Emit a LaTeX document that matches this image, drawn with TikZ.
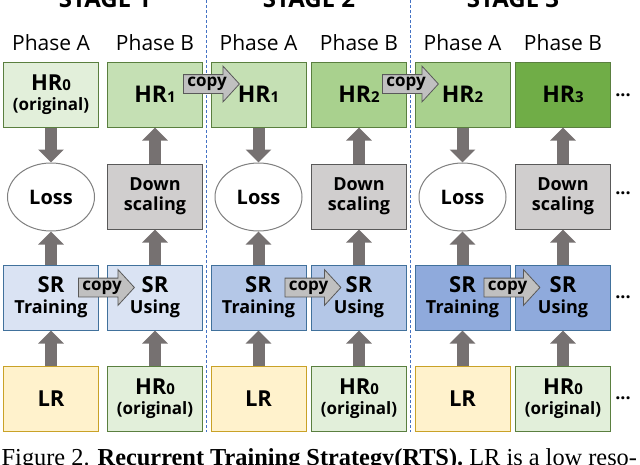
\documentclass[tikz,border=0pt]{standalone}
\usepackage{fontspec}
\setmainfont{Open Sans}
\newfontfamily\capfont{Liberation Serif}
\usetikzlibrary{shapes.geometric,shapes.arrows,arrows.meta,calc}
\definecolor{gA}{HTML}{E2EFDA}
\definecolor{gB}{HTML}{C5E0B4}
\definecolor{gC}{HTML}{A9D18E}
\definecolor{gD}{HTML}{70AD47}
\definecolor{gline}{HTML}{5A7F3F}
\definecolor{bA}{HTML}{DAE3F3}
\definecolor{bB}{HTML}{B4C7E7}
\definecolor{bC}{HTML}{8FAADC}
\definecolor{bline}{HTML}{41719C}
\definecolor{yfill}{HTML}{FFF2CC}
\definecolor{yline}{HTML}{C9A227}
\definecolor{dsfill}{HTML}{D0CECE}
\definecolor{dsline}{HTML}{595959}
\definecolor{arrgray}{HTML}{767171}
\definecolor{copyfill}{HTML}{C0C0C0}
\definecolor{sepblue}{HTML}{4472C4}
\newcommand{\hrlab}[1]{HR\raisebox{-0.5pt}{\fontsize{15}{15}\selectfont #1}}
\newcommand{\origlab}{{\fontsize{22}{20}\selectfont\hrlab{0}}\\{\fontsize{17}{20}\selectfont (original)}}
\newcommand{\srlab}[1]{{\fontsize{22}{21}\selectfont SR}\\{\fontsize{18}{21}\selectfont #1}}
\begin{document}
\begin{tikzpicture}[x=1pt,y=-1pt,
  box/.style={draw, line width=1pt, minimum width=95pt, minimum height=65pt, inner sep=0pt, align=center, font=\bfseries},
  hrbox/.style={box, draw=gline, fill=#1, font=\bfseries\fontsize{23}{25}\selectfont},
  origbox/.style={box, draw=gline, fill=gA, font=\bfseries\fontsize{17}{20}\selectfont},
  srbox/.style={box, draw=bline, fill=#1, font=\bfseries\fontsize{18}{21}\selectfont},
  lrbox/.style={box, draw=yline, fill=yfill, font=\bfseries\fontsize{22}{24}\selectfont},
  dsbox/.style={box, draw=dsline, fill=dsfill, font=\bfseries\fontsize{18}{20}\selectfont},
  lossnode/.style={ellipse, draw=black!50, line width=1pt, fill=white, minimum width=87pt, minimum height=68pt, inner sep=0pt, font=\bfseries\fontsize{20}{22}\selectfont},
  phaselab/.style={font=\fontsize{21}{23}\selectfont},
  stagelab/.style={font=\bfseries\fontsize{24}{26}\selectfont, anchor=base},
  dotslab/.style={font=\bfseries\fontsize{18}{18}\selectfont, anchor=base},
  bigarrow/.style={draw=arrgray, line width=12pt, -{Triangle[length=13pt,width=25pt]}},
  copyarrow/.style={single arrow, draw=dsline, fill=copyfill, line width=0.8pt,
    single arrow head extend=8.5pt, single arrow tip angle=95, minimum height=56pt,
    inner xsep=1pt, inner ysep=2.5pt, text height=9pt, text depth=4pt,
    font=\bfseries\fontsize{17}{17}\selectfont, anchor=tail},
  sepline/.style={draw=sepblue, line width=0.9pt, dash pattern=on 3pt off 2pt}
]
\useasboundingbox (0,0) rectangle (640,464);

% separators
\draw[sepline] (206,0) -- (206,432);
\draw[sepline] (410,0) -- (410,432);

% stage labels
\node[stagelab] (st1) at (105,7.5) {STAGE 1};
\node[stagelab] (st2) at (309,7.5) {STAGE 2};
\node[stagelab] (st3) at (513,7.5) {STAGE 3};

% phase labels
\node[phaselab] (p1a) at (51,43) {Phase A};
\node[phaselab] (p1b) at (155,43) {Phase B};
\node[phaselab] (p2a) at (258.5,43) {Phase A};
\node[phaselab] (p2b) at (359,43) {Phase B};
\node[phaselab] (p3a) at (462.5,43) {Phase A};
\node[phaselab] (p3b) at (563,43) {Phase B};

% row 1
\node[origbox] (h1a) at (51,94.5) {\origlab};
\node[hrbox=gB] (h1b) at (155,94.5) {\hrlab{1}};
\node[hrbox=gB] (h2a) at (258.5,94.5) {\hrlab{1}};
\node[hrbox=gC] (h2b) at (359,94.5) {\hrlab{2}};
\node[hrbox=gC] (h3a) at (462.5,94.5) {\hrlab{2}};
\node[hrbox=gD] (h3b) at (563,94.5) {\hrlab{3}};

% row 2
\node[lossnode] (l1) at (51,197) {Loss};
\node[dsbox] (d1) at (155,196.5) {Down\\scaling};
\node[lossnode] (l2) at (258.5,197) {Loss};
\node[dsbox] (d2) at (359,196.5) {Down\\scaling};
\node[lossnode] (l3) at (462.5,197) {Loss};
\node[dsbox] (d3) at (563,196.5) {Down\\scaling};

% row 3
\node[srbox=bA] (t1) at (51,297.5) {\srlab{Training}};
\node[srbox=bA] (u1) at (155,297.5) {\srlab{Using}};
\node[srbox=bB] (t2) at (258.5,297.5) {\srlab{Training}};
\node[srbox=bB] (u2) at (359,297.5) {\srlab{Using}};
\node[srbox=bC] (t3) at (462.5,297.5) {\srlab{Training}};
\node[srbox=bC] (u3) at (563,297.5) {\srlab{Using}};

% row 4
\node[lrbox] (r1) at (51,398.5) {LR};
\node[origbox] (o1) at (155,398.5) {\origlab};
\node[lrbox] (r2) at (258.5,398.5) {LR};
\node[origbox] (o2) at (359,398.5) {\origlab};
\node[lrbox] (r3) at (462.5,398.5) {LR};
\node[origbox] (o3) at (563,398.5) {\origlab};

% dots
\node[dotslab] (dt1) at (623,96) {...};
\node[dotslab] (dt2) at (623,194.5) {...};
\node[dotslab] (dt3) at (623,298.5) {...};
\node[dotslab] (dt4) at (623,399.5) {...};

% big gray arrows
\foreach \s in {1,2,3}{
  \draw[bigarrow] (h\s a.south) -- (l\s.north);
  \draw[bigarrow] (t\s.north) -- (l\s.south);
  \draw[bigarrow] (r\s.north) -- (t\s.south);
  \draw[bigarrow] (d\s.north) -- (h\s b.south);
  \draw[bigarrow] (u\s.north) -- (d\s.south);
  \draw[bigarrow] (o\s.north) -- (u\s.south);
}

% copy arrows
\node[copyarrow] (c12) at ($(h1b.east)+(-20pt,10.5pt)$) {copy};
\node[copyarrow] (c23) at ($(h2b.east)+(-25pt,10.5pt)$) {copy};
\node[copyarrow] (cs1) at ($(t1.east)+(-21pt,10pt)$) {copy};
\node[copyarrow] (cs2) at ($(t2.east)+(-22pt,10pt)$) {copy};
\node[copyarrow] (cs3) at ($(t3.east)+(-27pt,10pt)$) {copy};

% caption
\node[anchor=base west, inner sep=0pt, font=\capfont\fontsize{24.35}{24}\selectfont] (cap) at (1.5,465) {Figure 2. \textbf{Recurrent Training Strategy(RTS).} LR is a low reso-};
\end{tikzpicture}
\end{document}
